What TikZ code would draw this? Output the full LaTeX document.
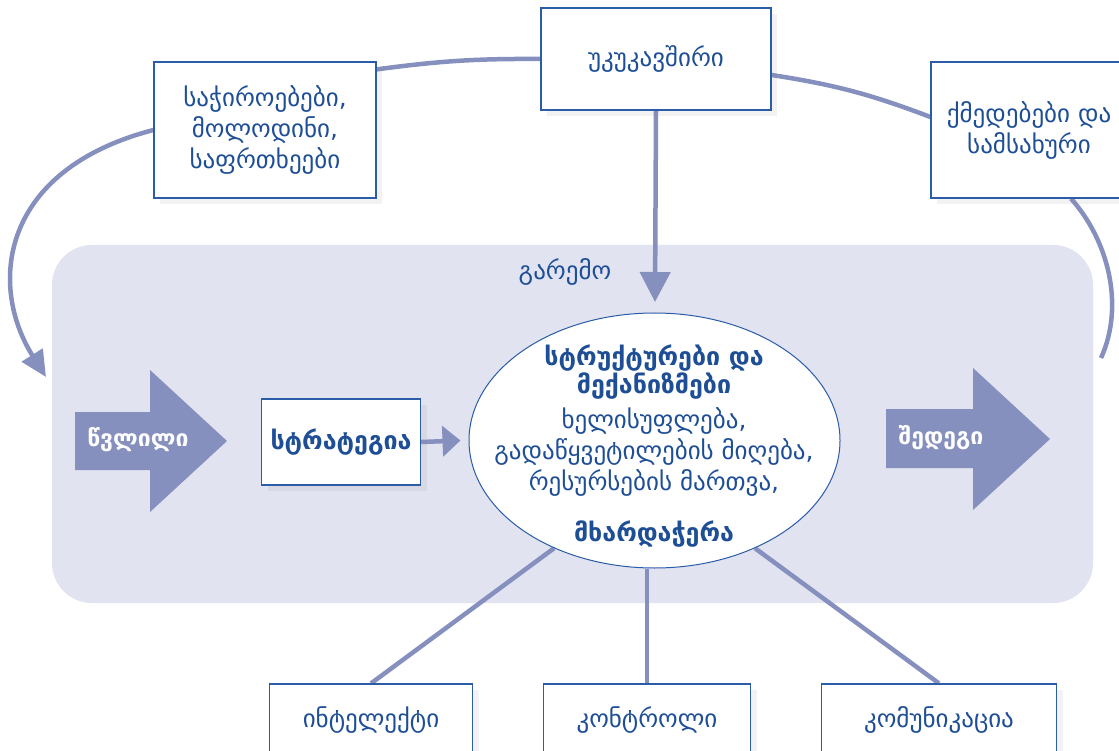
\documentclass[tikz,border=0pt]{standalone}
\usepackage{fontspec}
\setmainfont{DejaVu Sans}
\usetikzlibrary{arrows.meta, positioning, shapes.geometric, shadows, backgrounds}
\definecolor{linkblue}{HTML}{8690BF}
\definecolor{panelgray}{HTML}{E1E3F0}
\definecolor{textblue}{HTML}{1E4E96}
\definecolor{edgeblue}{HTML}{2A5CA8}

\begin{document}
\begin{tikzpicture}[x=1pt, y=-1pt,
    every node/.style={font=\fontsize{25}{31}\selectfont, text=textblue},
    box/.style={draw=edgeblue, line width=1.2pt, fill=white, align=center, inner sep=0pt,
        drop shadow={opacity=0.10, shadow xshift=6pt, shadow yshift=-6pt}},
    bold/.style={font=\fontsize{25}{29}\selectfont\bfseries},
    link/.style={draw=linkblue, line width=4.5pt},
    flow/.style={fill=linkblue},
    flowlabel/.style={text=white, font=\fontsize{23}{27}\selectfont\bfseries}]
    \useasboundingbox (0,0) rectangle (1119,751);

    \node[box, minimum width=222, minimum height=136] (risks) at (265,130) {საჭიროებები,\\მოლოდინი,\\საფრთხეები};
    \node[box, minimum width=230, minimum height=102] (fb) at (656,59) {უკუკავშირი};
    \node[box, minimum width=196, minimum height=136] (act) at (1029,130) {ქმედებები და\\სამსახური};
    \node[box, bold, minimum width=159, minimum height=86] (strat) at (341,442) {სტრატეგია};
    \node[ellipse, draw=edgeblue, line width=1pt, fill=white, minimum width=371, minimum height=255, inner sep=0pt] (core) at (654.5,440.5) {};
    \node[align=center] (coreText) at (654,446) {\textbf{სტრუქტურები და}\\[-3pt]\textbf{მექანიზმები}\\[4pt]ხელისუფლება,\\გადაწყვეტილების მიღება,\\რესურსების მართვა,\\[20pt]\textbf{მხარდაჭერა}};
    \node[box, minimum width=203, minimum height=72] (intel) at (371,720) {ინტელექტი};
    \node[box, minimum width=207, minimum height=72] (ctrl) at (647,720) {კონტროლი};
    \node[box, minimum width=235, minimum height=72] (comm) at (939,720) {კომუნიკაცია};

    % big arrows in and out
    \fill[flow] (75,412) -- (150,412) -- (150,370) -- (227,441) -- (150,512) -- (150,470) -- (75,470) -- cycle;
    \node[flowlabel] (input) at (138,440) {წვლილი};
    \fill[flow] (886,409) -- (973,409) -- (973,368) -- (1050,439) -- (973,510) -- (973,468) -- (886,468) -- cycle;
    \node[flowlabel] (result) at (941,438) {შედეგი};

    \coordinate (fbTip) at (655,302);
    \coordinate (loopTip) at (46,377);
    \coordinate (loopEnd) at (1101,358);

    \begin{scope}[on background layer]
        \fill[panelgray, rounded corners=40pt] (52,245) rectangle (1093,603);
        \node (env) at (565,272) {გარემო};
        \draw[link, -{Triangle[length=30pt, width=30pt]}] (fb.south) -- (fbTip);
        \draw[link, -{Triangle[length=18pt, width=30pt]}] (strat.east) -- ([xshift=-8pt]core.west);
        \draw[link] (core.227) -- (intel.north);
        \draw[link] (ctrl.north |- core.south) -- (ctrl.north);
        \draw[link] (core.313) -- (comm.north);
        % feedback loop
        \draw[link, -{Triangle[length=26pt, width=24pt]}] (risks.west) .. controls (0,170) and (-12,285) .. (loopTip);
        \draw[link] ([yshift=-8pt]risks.north east) to[bend left=4] (fb.west);
        \draw[link] ([yshift=-16pt]fb.east) to[bend left=6] ([yshift=13pt]act.west);
        \draw[link] ([xshift=42pt]act.south) .. controls (1108,240) and (1125,305) .. (loopEnd);
    \end{scope}
\end{tikzpicture}
\end{document}
